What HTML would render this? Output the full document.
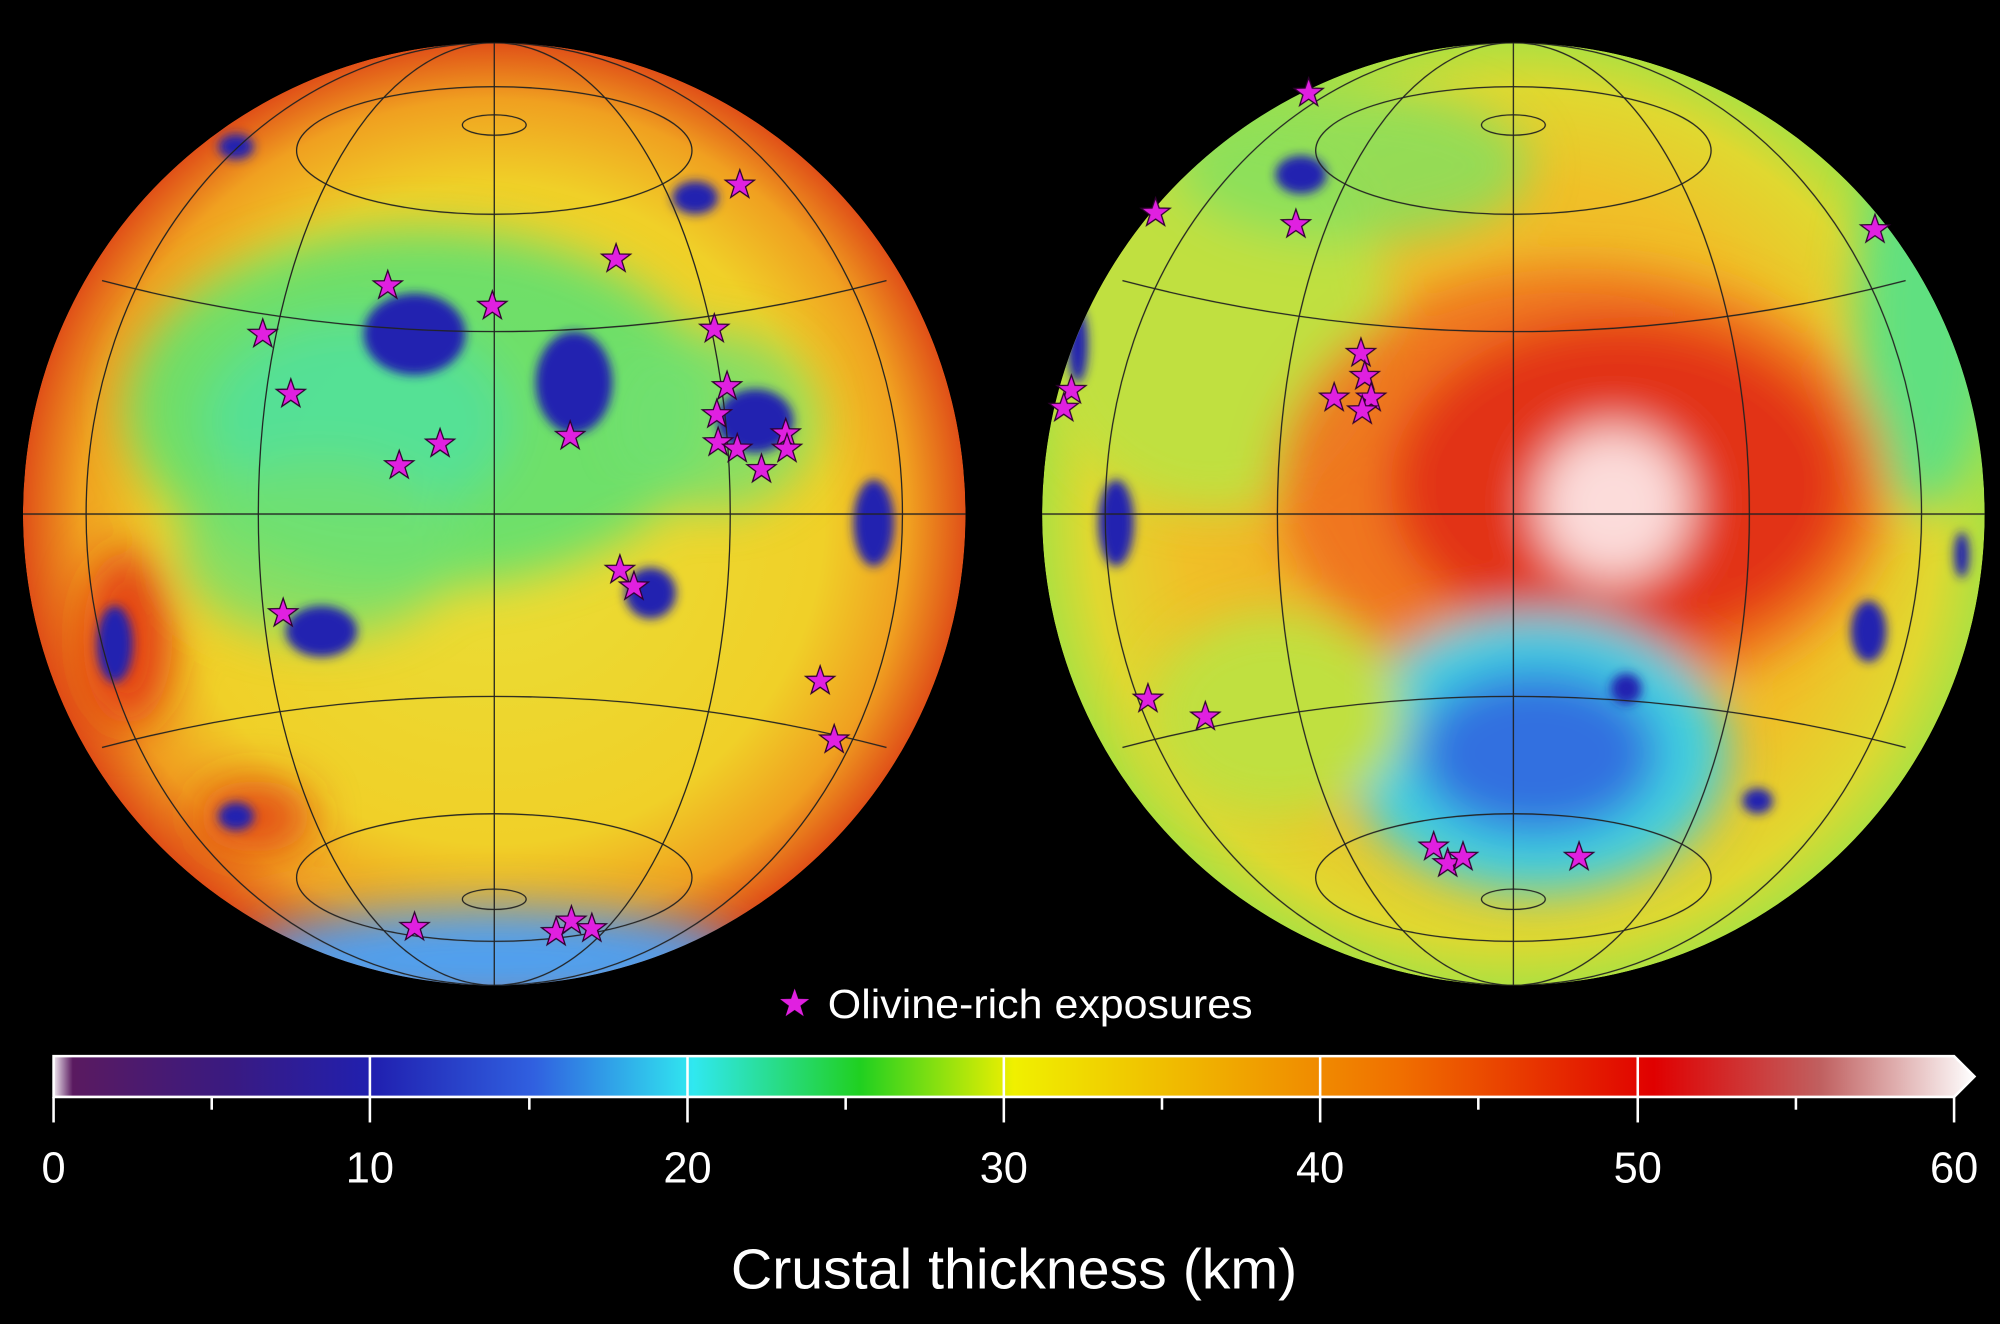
<!DOCTYPE html>
<html><head><meta charset="utf-8"><style>html,body{margin:0;padding:0;background:#000;}svg{display:block}</style></head>
<body>
<svg width="2000" height="1324" viewBox="0 0 1568 1038" preserveAspectRatio="none" xmlns="http://www.w3.org/2000/svg">
<defs>
<radialGradient id="gl" cx="0.5" cy="0.5" r="0.5">
<stop offset="0" stop-color="#e8e038"/><stop offset="0.7" stop-color="#f0d028"/><stop offset="0.88" stop-color="#f0a020"/><stop offset="1" stop-color="#e05018"/></radialGradient>
<radialGradient id="gr" cx="0.5" cy="0.5" r="0.5">
<stop offset="0" stop-color="#f0a028"/><stop offset="0.7" stop-color="#f0c028"/><stop offset="0.9" stop-color="#e0d830"/><stop offset="1" stop-color="#b0e040"/></radialGradient>
<filter id="b1" x="-50%" y="-50%" width="200%" height="200%"><feGaussianBlur stdDeviation="18"/></filter>
<filter id="b2" x="-50%" y="-50%" width="200%" height="200%"><feGaussianBlur stdDeviation="4"/></filter>
<clipPath id="cl"><circle cx="387.5" cy="403" r="369.5"/></clipPath>
<clipPath id="cr"><circle cx="1186.5" cy="403" r="369.5"/></clipPath>
<linearGradient id="cb" x1="0" x2="1">
<stop offset="0" stop-color="#f0e8f0"/><stop offset="0.01" stop-color="#5a1a60"/><stop offset="0.09" stop-color="#3a1a80"/><stop offset="0.167" stop-color="#2020b0"/><stop offset="0.25" stop-color="#3060e0"/><stop offset="0.333" stop-color="#30e8f0"/><stop offset="0.42" stop-color="#20d020"/><stop offset="0.5" stop-color="#f0f000"/><stop offset="0.6" stop-color="#f0b000"/><stop offset="0.7" stop-color="#f07000"/><stop offset="0.833" stop-color="#e00000"/><stop offset="0.92" stop-color="#c06060"/><stop offset="1" stop-color="#ffffff"/></linearGradient>
<path id="st" d="M0,-12 L2.8,-3.9 11.4,-3.7 4.5,1.5 7.1,9.7 0,4.8 -7.1,9.7 -4.5,1.5 -11.4,-3.7 -2.8,-3.9Z" fill="#e020e0" stroke="#300030" stroke-width="1"/>
</defs>
<rect width="1568" height="1038" fill="#000"/>

<!-- Left globe -->
<g clip-path="url(#cl)">
<circle cx="387.5" cy="403" r="369.5" fill="url(#gl)"/>
<g filter="url(#b1)">
<ellipse cx="330" cy="320" rx="230" ry="140" fill="#60e070" opacity="0.9"/>
<ellipse cx="280" cy="330" rx="120" ry="80" fill="#50e0a0" opacity="0.8"/>
<ellipse cx="250" cy="430" rx="110" ry="70" fill="#70e070" opacity="0.8"/>
<ellipse cx="560" cy="330" rx="80" ry="70" fill="#70e070" opacity="0.8"/>
<ellipse cx="387" cy="752" rx="200" ry="40" fill="#50a0f0"/>
<ellipse cx="100" cy="500" rx="35" ry="70" fill="#e02010" opacity="0.8"/>
<ellipse cx="200" cy="640" rx="45" ry="28" fill="#e03010" opacity="0.8"/>
</g>
<g filter="url(#b2)" fill="#2020b0">
<ellipse cx="325" cy="262" rx="40" ry="32"/>
<ellipse cx="450" cy="300" rx="30" ry="40"/>
<ellipse cx="592" cy="330" rx="30" ry="25"/>
<ellipse cx="545" cy="155" rx="18" ry="13"/>
<ellipse cx="685" cy="410" rx="16" ry="34"/>
<ellipse cx="510" cy="465" rx="20" ry="20"/>
<ellipse cx="252" cy="495" rx="28" ry="20"/>
<ellipse cx="90" cy="505" rx="14" ry="30"/>
<ellipse cx="185" cy="640" rx="14" ry="11"/>
<ellipse cx="185" cy="115" rx="14" ry="10"/>
</g>
<g fill="none" stroke="#222" stroke-width="1">
<line x1="387.5" y1="30" x2="387.5" y2="780"/>
<ellipse cx="387.5" cy="403" rx="185" ry="369.5"/>
<ellipse cx="387.5" cy="403" rx="320" ry="369.5"/>
<line x1="10" y1="403" x2="770" y2="403"/>
<ellipse cx="387.5" cy="118" rx="155" ry="50"/>
<ellipse cx="387.5" cy="688" rx="155" ry="50"/>
<ellipse cx="387.5" cy="98" rx="25" ry="8"/>
<ellipse cx="387.5" cy="705" rx="25" ry="8"/>
<path d="M80,220 Q387.5,300 695,220"/>
<path d="M80,586 Q387.5,506 695,586"/>
</g>
</g>

<!-- Right globe -->
<g clip-path="url(#cr)">
<circle cx="1186.5" cy="403" r="369.5" fill="url(#gr)"/>
<g filter="url(#b1)">
<ellipse cx="950" cy="250" rx="140" ry="150" fill="#c0e040"/>
<ellipse cx="1060" cy="130" rx="140" ry="60" fill="#80e060" opacity="0.8"/>
<ellipse cx="1510" cy="250" rx="55" ry="150" fill="#60e080"/>
<ellipse cx="1240" cy="380" rx="240" ry="170" fill="#f07020" opacity="0.9"/>
<ellipse cx="1270" cy="380" rx="180" ry="130" fill="#e02818" opacity="0.85"/>
<ellipse cx="1265" cy="395" rx="60" ry="60" fill="#fff0f0" opacity="0.9"/>
<ellipse cx="1205" cy="590" rx="150" ry="110" fill="#40d0e0"/>
<ellipse cx="1205" cy="590" rx="95" ry="65" fill="#3070e0"/>
<ellipse cx="1000" cy="560" rx="100" ry="80" fill="#c0e040"/>
</g>
<g filter="url(#b2)" fill="#2020b0">
<ellipse cx="875" cy="410" rx="14" ry="34"/>
<ellipse cx="1020" cy="137" rx="20" ry="15"/>
<ellipse cx="1465" cy="495" rx="14" ry="24"/>
<ellipse cx="1378" cy="628" rx="12" ry="10"/>
<ellipse cx="1275" cy="540" rx="12" ry="12"/>
<ellipse cx="1538" cy="435" rx="6" ry="18"/>
<ellipse cx="845" cy="270" rx="8" ry="30"/>
</g>
<g fill="none" stroke="#222" stroke-width="1">
<line x1="1186.5" y1="30" x2="1186.5" y2="780"/>
<ellipse cx="1186.5" cy="403" rx="185" ry="369.5"/>
<ellipse cx="1186.5" cy="403" rx="320" ry="369.5"/>
<line x1="810" y1="403" x2="1570" y2="403"/>
<ellipse cx="1186.5" cy="118" rx="155" ry="50"/>
<ellipse cx="1186.5" cy="688" rx="155" ry="50"/>
<ellipse cx="1186.5" cy="98" rx="25" ry="8"/>
<ellipse cx="1186.5" cy="705" rx="25" ry="8"/>
<path d="M880,220 Q1186.5,300 1494,220"/>
<path d="M880,586 Q1186.5,506 1494,586"/>
</g>
</g>

<!-- stars -->
<g>
<use href="#st" x="580" y="145"/><use href="#st" x="483" y="203"/><use href="#st" x="304" y="224"/><use href="#st" x="386" y="240"/><use href="#st" x="206" y="262"/><use href="#st" x="560" y="258"/><use href="#st" x="228" y="309"/><use href="#st" x="570" y="303"/><use href="#st" x="562" y="325"/><use href="#st" x="447" y="342"/><use href="#st" x="345" y="348"/><use href="#st" x="313" y="365"/><use href="#st" x="563" y="347"/><use href="#st" x="578" y="352"/><use href="#st" x="616" y="340"/><use href="#st" x="617" y="352"/><use href="#st" x="597" y="368"/><use href="#st" x="486" y="447"/><use href="#st" x="497" y="460"/><use href="#st" x="222" y="481"/><use href="#st" x="643" y="534"/><use href="#st" x="654" y="580"/><use href="#st" x="325" y="727"/><use href="#st" x="436" y="731"/><use href="#st" x="448" y="722"/><use href="#st" x="464" y="728"/>
<use href="#st" x="1026" y="73"/><use href="#st" x="906" y="167"/><use href="#st" x="1016" y="176"/><use href="#st" x="1470" y="180"/><use href="#st" x="840" y="306"/><use href="#st" x="834" y="320"/><use href="#st" x="1067" y="277"/><use href="#st" x="1070" y="295"/><use href="#st" x="1046" y="312"/><use href="#st" x="1075" y="312"/><use href="#st" x="1068" y="322"/><use href="#st" x="900" y="548"/><use href="#st" x="945" y="562"/><use href="#st" x="1124" y="664"/><use href="#st" x="1135" y="677"/><use href="#st" x="1147" y="672"/><use href="#st" x="1238" y="672"/>
</g>

<!-- legend -->
<path transform="translate(623,787)" d="M0,-12 L2.8,-3.9 11.4,-3.7 4.5,1.5 7.1,9.7 0,4.8 -7.1,9.7 -4.5,1.5 -11.4,-3.7 -2.8,-3.9Z" fill="#e020e0"/>
<text x="649" y="798" font-family="Liberation Sans, sans-serif" font-size="32" fill="#fff" textLength="333" lengthAdjust="spacingAndGlyphs">Olivine-rich exposures</text>

<!-- colorbar -->
<path d="M42,828 L1532,828 L1548,844 L1532,860 L42,860Z" fill="url(#cb)" stroke="#fff" stroke-width="2"/>
<g stroke="#fff" stroke-width="2">
<line x1="290" y1="828" x2="290" y2="860"/><line x1="539" y1="828" x2="539" y2="860"/><line x1="787" y1="828" x2="787" y2="860"/><line x1="1035" y1="828" x2="1035" y2="860"/><line x1="1284" y1="828" x2="1284" y2="860"/>
<line x1="42" y1="860" x2="42" y2="880"/><line x1="290" y1="860" x2="290" y2="880"/><line x1="539" y1="860" x2="539" y2="880"/><line x1="787" y1="860" x2="787" y2="880"/><line x1="1035" y1="860" x2="1035" y2="880"/><line x1="1284" y1="860" x2="1284" y2="880"/><line x1="1532" y1="860" x2="1532" y2="880"/>
<line x1="166" y1="860" x2="166" y2="870"/><line x1="415" y1="860" x2="415" y2="870"/><line x1="663" y1="860" x2="663" y2="870"/><line x1="911" y1="860" x2="911" y2="870"/><line x1="1159" y1="860" x2="1159" y2="870"/><line x1="1408" y1="860" x2="1408" y2="870"/>
</g>
<g font-family="Liberation Sans, sans-serif" font-size="34" fill="#fff" text-anchor="middle">
<text x="42" y="927">0</text><text x="290" y="927">10</text><text x="539" y="927">20</text><text x="787" y="927">30</text><text x="1035" y="927">40</text><text x="1284" y="927">50</text><text x="1532" y="927">60</text>
</g>
<text x="795" y="1010" font-family="Liberation Sans, sans-serif" font-size="44" fill="#fff" text-anchor="middle" textLength="444" lengthAdjust="spacingAndGlyphs">Crustal thickness (km)</text>
</svg>
</body></html>
